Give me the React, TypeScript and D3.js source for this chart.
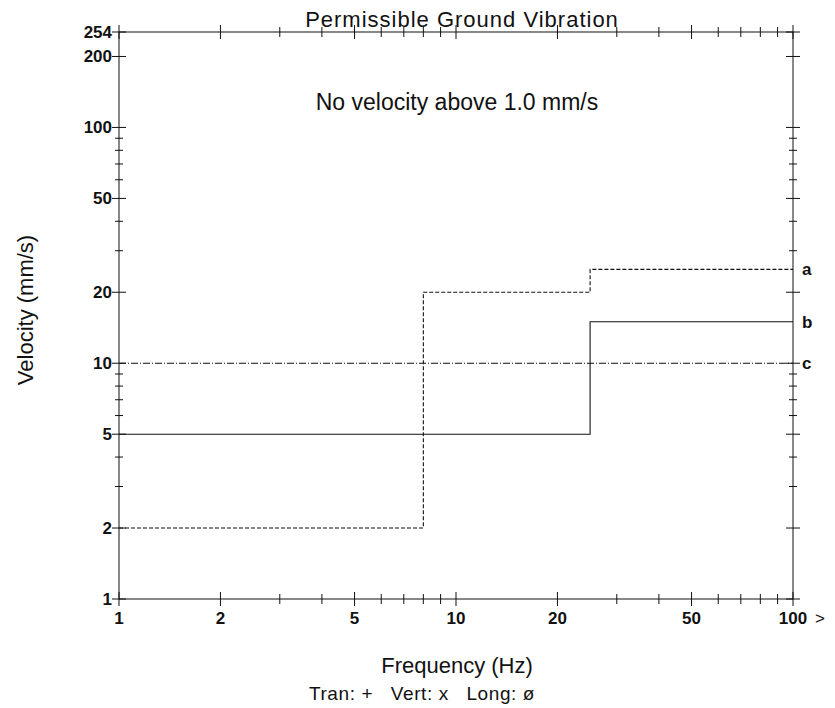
import React from "react";
import * as d3 from "d3";

const curveNames = ["a", "b", "c"];
const curveFreqs = [
  [1, 8, 25, 100],
  [1, 25, 100],
  [1, 100],
];
const curveVels = [
  [2, 20, 25, 25],
  [5, 15, 15],
  [10, 10],
];
const curveDash = ["4,2", "none", "7,2,1,2"];

const xTickLabels = [1, 2, 5, 10, 20, 50, 100];
const yTickLabels = [1, 2, 5, 10, 20, 50, 100, 200, 254];
const minorMultipliers = [1, 2, 3, 4, 5, 6, 7, 8, 9];

const W = 835;
const H = 708;
const M = { left: 119, right: 793, top: 32, bottom: 599 };

export default function App() {
  const x = d3.scaleLog().domain([1, 100]).range([M.left, M.right]);
  const y = d3.scaleLog().domain([1, 254]).range([M.bottom, M.top]);

  const xMinor: number[] = [];
  [1, 10].forEach((d) => minorMultipliers.forEach((m) => xMinor.push(d * m)));
  xMinor.push(100);
  const yMinor: number[] = [];
  [1, 10, 100].forEach((d) => minorMultipliers.forEach((m) => { if (d * m <= 254) yMinor.push(d * m); }));

  const line = d3
    .line<[number, number]>()
    .x((d) => x(d[0]))
    .y((d) => y(d[1]))
    .curve(d3.curveStepAfter);

  const ink = "#111";
  const font = "'Liberation Sans', Arial, sans-serif";

  return (
    <svg width={W} height={H} style={{ position: "absolute", left: 0, top: 0, background: "#fff" }} fontFamily={font}>
      {/* frame */}
      <rect x={M.left} y={M.top} width={M.right - M.left} height={M.bottom - M.top} fill="none" stroke={ink} strokeWidth={1} />
      {/* x ticks bottom & top */}
      {xMinor.map((v, i) => {
        const major = xTickLabels.includes(v);
        const L = major ? 7 : 5;
        return (
          <g key={"xt" + i} stroke={ink} strokeWidth={1}>
            <line x1={x(v)} x2={x(v)} y1={M.bottom - L} y2={M.bottom + L} />
            <line x1={x(v)} x2={x(v)} y1={M.top - L} y2={M.top + L} />
          </g>
        );
      })}
      {/* y ticks left & right */}
      {yMinor.concat([254]).map((v, i) => {
        const major = yTickLabels.includes(v);
        const L = major ? 7 : 4;
        return (
          <g key={"yt" + i} stroke={ink} strokeWidth={1}>
            <line x1={M.left - L} x2={M.left + L} y1={y(v)} y2={y(v)} />
            <line x1={M.right - L} x2={M.right + L} y1={y(v)} y2={y(v)} />
          </g>
        );
      })}
      {/* tick labels */}
      {xTickLabels.map((v) => (
        <text key={"xl" + v} x={x(v)} y={M.bottom + 25} textAnchor="middle" fontSize={17} fontWeight="bold" fill={ink}>
          {v}
        </text>
      ))}
      <text x={M.right + 27} y={M.bottom + 25} textAnchor="middle" fontSize={17} fill={ink}>{">"}</text>
      {yTickLabels.map((v) => (
        <text key={"yl" + v} x={M.left - 7} y={y(v) + 6} textAnchor="end" fontSize={17} fontWeight="bold" fill={ink}>
          {v}
        </text>
      ))}
      {/* curves */}
      {curveNames.map((n, i) => {
        const pts: [number, number][] = curveFreqs[i].map((f, j) => [f, curveVels[i][j]]);
        const last = curveVels[i][curveVels[i].length - 1];
        return (
          <g key={n}>
            <path d={line(pts) || ""} fill="none" stroke={ink} strokeWidth={1.1} strokeDasharray={curveDash[i]} />
            <text x={M.right + 9} y={y(last) + 6} fontSize={17} fontWeight="bold" fill={ink}>{n}</text>
          </g>
        );
      })}
      {/* texts */}
      <text x={462} y={27} textAnchor="middle" fontSize={22} letterSpacing={1} fill={ink}>Permissible Ground Vibration</text>
      <text x={457} y={110} textAnchor="middle" fontSize={23} fill={ink}>No velocity above 1.0 mm/s</text>
      <text transform={`translate(33, 310) rotate(-90)`} textAnchor="middle" fontSize={22} fill={ink}>Velocity (mm/s)</text>
      <text x={457} y={673} textAnchor="middle" fontSize={22} fill={ink}>Frequency (Hz)</text>
      <text x={422} y={700} textAnchor="middle" fontSize={19} letterSpacing={0.6} fill={ink} style={{ whiteSpace: "pre" }}>{"Tran: +   Vert: x   Long: ø"}</text>
    </svg>
  );
}
